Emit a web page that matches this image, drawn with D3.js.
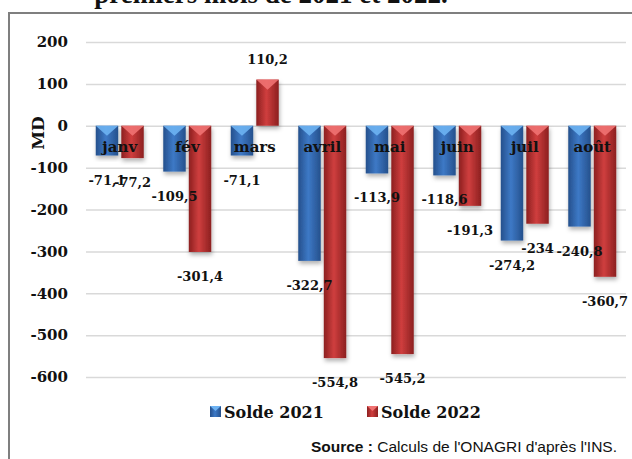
<!DOCTYPE html>
<html>
<head>
  <meta charset="utf-8">
  <style>
    body { margin: 0; background: #fff; }
    svg text { font-family: "DejaVu Serif", serif; font-weight: bold; fill: #111; }
  </style>
</head>
<body>
<svg id="chart" width="632" height="459"></svg>
<script src="https://cdn.jsdelivr.net/npm/d3@7"></script>
<script>
  // data
  const months = ["janv", "fév", "mars", "avril", "mai", "juin", "juil", "août"];
  const series = ["Solde 2021", "Solde 2022"];
  const solde2021 = [-71.1, -109.5, -71.1, -322.7, -113.9, -118.6, -274.2, -240.8];
  const solde2022 = [-77.2, -301.4, 110.2, -554.8, -545.2, -191.3, -234, -360.7];
  const yTicks = [200, 100, 0, -100, -200, -300, -400, -500, -600];

  const rows = months.map((m, i) => ({ month: m, values: [solde2021[i], solde2022[i]] }));
  const points = [];
  rows.forEach(r => r.values.forEach((v, i) => points.push({ month: r.month, s: series[i], i: i, v: v })));

  const svg = d3.select("#chart");
  const defs = svg.append("defs");

  const colors = {
    "Solde 2021": { dark: "#25508c", mid: "#3d79c6", light: "#6db2f2" },
    "Solde 2022": { dark: "#8c2020", mid: "#cf3e3e", light: "#f07272" }
  };

  series.forEach((s, i) => {
    let g = defs.append("linearGradient").attr("id", "grad" + i)
      .attr("x1", 0).attr("x2", 1).attr("y1", 0).attr("y2", 0);
    g.append("stop").attr("offset", "0%").attr("stop-color", colors[s].dark);
    g.append("stop").attr("offset", "45%").attr("stop-color", colors[s].mid);
    g.append("stop").attr("offset", "100%").attr("stop-color", colors[s].dark);
  });

  let shadow = defs.append("filter").attr("id", "shadow")
    .attr("x", "-30%").attr("y", "-10%").attr("width", "160%").attr("height", "130%");
  shadow.append("feDropShadow").attr("dx", 1).attr("dy", 3)
    .attr("stdDeviation", 2).attr("flood-color", "#000").attr("flood-opacity", 0.3);

  // title (cut off at top of the picture)
  svg.append("text")
    .attr("x", 271).attr("y", 3)
    .attr("text-anchor", "middle")
    .style("font-family", "'Liberation Serif', serif")
    .style("font-size", "27px")
    .text("premiers mois de 2021 et 2022.");

  // frame
  svg.append("path")
    .attr("d", "M9,459 L9,13 L640,13")
    .attr("fill", "none")
    .attr("stroke", "#7f7f7f")
    .attr("stroke-width", 2);

  let y = d3.scaleLinear().domain([-600, 200]).range([377, 42]);
  let x0 = d3.scaleBand().domain(months).range([86, 626]);
  let x1 = d3.scaleBand().domain(series)
    .range([x0.bandwidth() / 2 - 24, x0.bandwidth() / 2 + 24])
    .paddingInner(0.12);
  let bx = d => x0(d.month) + x1(d.s);

  // gridlines + y labels
  let yAxis = d3.axisLeft(y).tickValues(yTicks).tickSize(-540).tickPadding(18)
    .tickFormat(d => String(d));
  svg.append("g")
    .attr("transform", "translate(86,0)")
    .call(yAxis)
    .call(g => g.select(".domain").remove())
    .call(g => g.selectAll(".tick line").attr("stroke", "#d9d9d9").attr("stroke-width", 1.5))
    .call(g => g.selectAll(".tick text")
      .style("font-family", "'DejaVu Serif', serif")
      .style("font-weight", "bold")
      .style("font-size", "15px")
      .attr("fill", "#111"));

  svg.append("text")
    .attr("transform", "translate(44,133) rotate(-90)")
    .attr("text-anchor", "middle")
    .style("font-size", "17px")
    .text("MD");

  // bars
  let bars = svg.append("g").selectAll("g")
    .data(points).join("g");

  bars.append("rect")
    .attr("x", bx)
    .attr("y", d => y(Math.max(0, d.v)))
    .attr("width", x1.bandwidth())
    .attr("height", d => Math.abs(y(d.v) - y(0)))
    .attr("fill", d => `url(#grad${d.i})`)
    .attr("filter", "url(#shadow)");

  // bevelled top
  bars.append("path")
    .attr("d", d => {
      let top = y(Math.max(0, d.v));
      let left = bx(d), w = x1.bandwidth();
      return `M${left},${top} L${left + w},${top} L${left + w / 2},${top + w * 0.45} Z`;
    })
    .attr("fill", d => colors[d.s].light)
    .attr("opacity", 0.9);

  // category labels next to zero line
  svg.append("g").selectAll("text")
    .data(months).join("text")
    .attr("x", d => x0(d) + x0.bandwidth() / 2)
    .attr("y", 152)
    .attr("text-anchor", "middle")
    .style("font-size", "15px")
    .text(d => d);

  // value labels, on top of every bar
  svg.append("g").selectAll("text")
    .data(points).join("text")
    .attr("x", d => bx(d) + x1.bandwidth() / 2)
    .attr("y", d => d.v < 0 ? y(d.v) + 29 : y(d.v) - 16)
    .attr("text-anchor", "middle")
    .style("font-size", "13px")
    .text(d => String(d.v).replace(".", ","));

  // legend
  let legendX = [210, 367];
  let legend = svg.append("g").selectAll("g")
    .data(series).join("g")
    .attr("transform", (d, i) => `translate(${legendX[i]},406)`);
  legend.append("rect")
    .attr("width", 11).attr("height", 11)
    .attr("fill", (d, i) => `url(#grad${i})`);
  legend.append("path")
    .attr("d", "M0,0 L11,0 L5.5,5 Z")
    .attr("fill", d => colors[d].light);
  legend.append("text")
    .attr("x", 14).attr("y", 12)
    .style("font-size", "16px")
    .text(d => d);

  // source
  let src = svg.append("text")
    .attr("x", 617).attr("y", 452)
    .attr("text-anchor", "end")
    .style("font-family", "'Liberation Sans', Arial, sans-serif")
    .style("font-weight", "normal")
    .style("font-size", "15.5px");
  src.append("tspan").style("font-weight", "bold").text("Source :");
  src.append("tspan").text(" Calculs de l'ONAGRI d'après l'INS.");
</script>
</body>
</html>
